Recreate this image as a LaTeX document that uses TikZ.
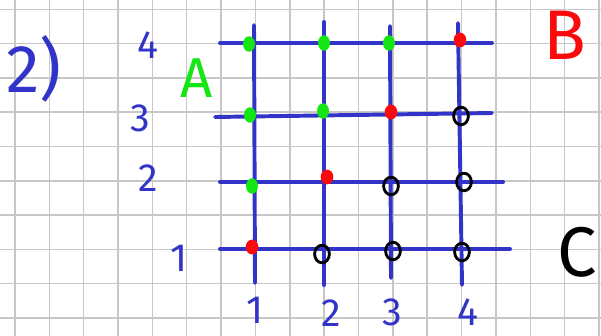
\documentclass[tikz,border=0pt]{standalone}
\usepackage{fontspec}
\setmainfont{Fira Sans}
\usetikzlibrary{shapes.geometric}
\definecolor{penblue}{RGB}{50,52,200}
\definecolor{pengreen}{RGB}{20,230,20}
\definecolor{penred}{RGB}{250,10,10}
\begin{document}
\begin{tikzpicture}[x=0.025cm, y=-0.025cm,
    paper/.style={draw=black!22, line width=1pt},
    pen/.style={draw=penblue, line width=2.8pt, line cap=round},
    gdot/.style={ellipse, fill=pengreen, inner sep=0pt, minimum width=8.5pt, minimum height=11pt},
    rdot/.style={ellipse, fill=penred, inner sep=0pt, minimum width=9pt, minimum height=10.5pt},
    kdot/.style={ellipse, draw=black, line width=2pt, inner sep=0pt, minimum width=10.5pt, minimum height=12.5pt},
    numlabel/.style={text=penblue, inner sep=1pt, font=\fontsize{28}{30}\selectfont}]
    \useasboundingbox (0,0) rectangle (601,336);
    \foreach \k in {0,...,17} \draw[paper] (15+34.35*\k,0) -- (15+34.35*\k,336);
    \foreach \k in {0,...,9} \draw[paper] (0,9.3+34.3*\k) -- (601,9.3+34.3*\k);
    \draw[pen] (220,43) -- (492,43);
    \draw[pen] (215,117) -- (492,113);
    \draw[pen] (220,182) -- (503,182);
    \draw[pen] (220,249) -- (510,249);
    \draw[pen] (254,25) -- (255,283);
    \draw[pen] (324,22) -- (324,285);
    \draw[pen] (390,26) -- (391,278);
    \draw[pen] (458,23) -- (462,285);
    \node[gdot] (p14) at (249,44) {};
    \node[gdot] (p24) at (324,43) {};
    \node[gdot] (p34) at (389,43) {};
    \node[rdot] (p44) at (460,40) {};
    \node[gdot] (p13) at (250,115) {};
    \node[gdot] (p23) at (323,111) {};
    \node[rdot] (p33) at (391,112) {};
    \node[kdot] (p43) at (461,116) {};
    \node[gdot] (p12) at (252,186) {};
    \node[rdot] (p22) at (327,177) {};
    \node[kdot] (p32) at (391,186) {};
    \node[kdot] (p42) at (464,182) {};
    \node[rdot] (p11) at (252,247) {};
    \node[kdot] (p21) at (322,254) {};
    \node[kdot] (p31) at (393,251) {};
    \node[kdot] (p41) at (462,252) {};
    \node[text=penblue, font=\fontsize{48}{50}\selectfont] (task) at (34,69) {2)};
    \node[numlabel] (y4) at (148,45) {4};
    \node[numlabel] (y3) at (140,118) {3};
    \node[numlabel] (y2) at (148,178) {2};
    \node[numlabel] (y1) at (179,258) {1};
    \node[numlabel] (x1) at (255,310) {1};
    \node[numlabel] (x2) at (331,313) {2};
    \node[numlabel] (x3) at (392,312) {3};
    \node[numlabel] (x4) at (468,312) {4};
    \node[text=pengreen, font=\fontsize{40}{42}\selectfont] (labA) at (197,78) {A};
    \node[text=penred, font=\fontsize{50}{52}\selectfont] (labB) at (565,35) {B};
    \node[anchor=east, font=\fontsize{50}{52}\selectfont] (labC) at (602,252) {C};
\end{tikzpicture}
\end{document}
